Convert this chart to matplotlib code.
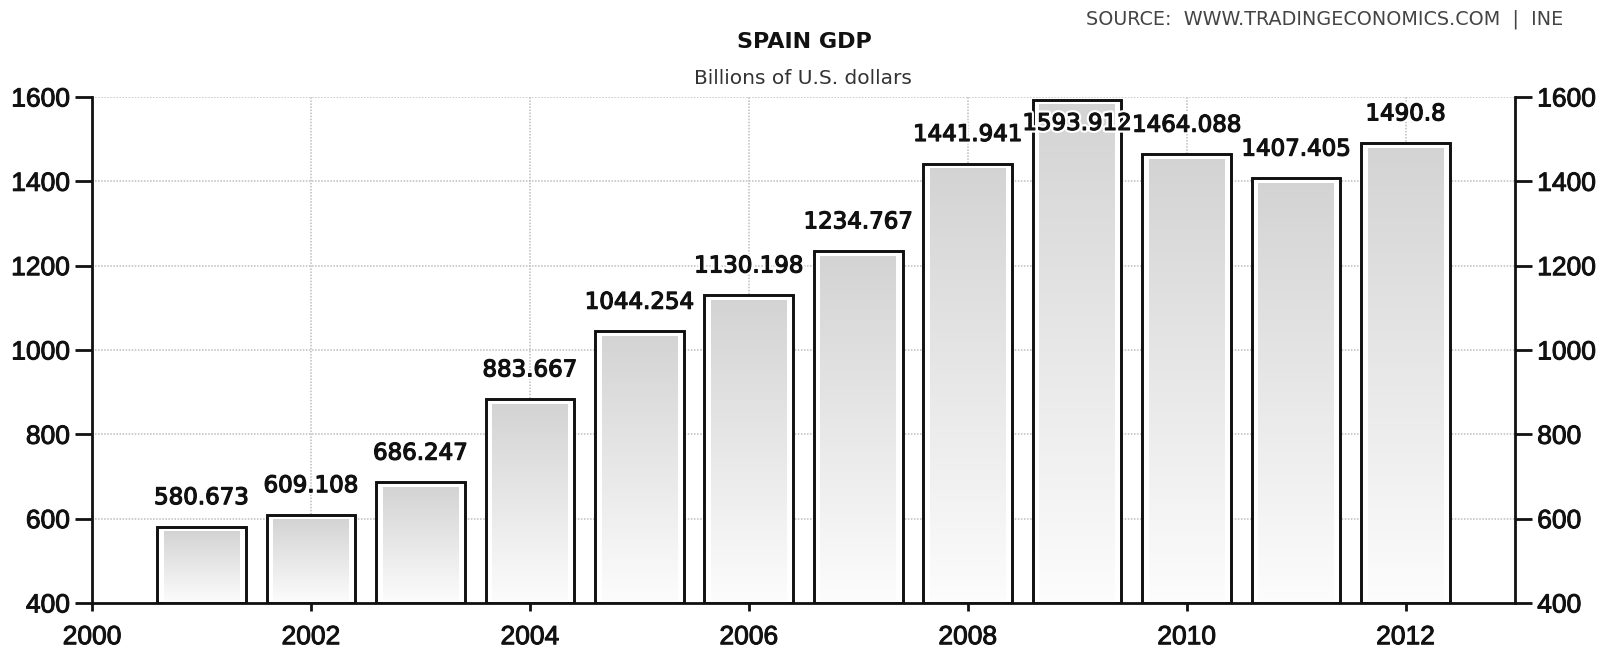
import numpy as np
import matplotlib
matplotlib.use("Agg")
import matplotlib.pyplot as plt
import matplotlib.patheffects as pe

# ---- data ----
years = [2001, 2002, 2003, 2004, 2005, 2006, 2007, 2008, 2009, 2010, 2011, 2012]
gdp = [580.673, 609.108, 686.247, 883.667, 1044.254, 1130.198, 1234.767,
       1441.941, 1593.912, 1464.088, 1407.405, 1490.8]
value_labels = ["580.673", "609.108", "686.247", "883.667", "1044.254", "1130.198",
                "1234.767", "1441.941", "1593.912", "1464.088", "1407.405", "1490.8"]
x_ticks = [2000, 2002, 2004, 2006, 2008, 2010, 2012]
y_ticks = [400, 600, 800, 1000, 1200, 1400, 1600]
title = "SPAIN GDP"
subtitle = "Billions of U.S. dollars"
source = "SOURCE:  WWW.TRADINGECONOMICS.COM  |  INE"

# ---- style ----
W, H, DPI = 1598, 652, 100
XMIN, XMAX = 2000, 2013
YMIN, YMAX = 400, 1600
BAR_W = 0.81
TICK_FONT = ["Liberation Sans Narrow", "Liberation Sans", "DejaVu Sans"]
DARK = "#111111"
heavy = [pe.withStroke(linewidth=0.7, foreground=DARK)]

fig = plt.figure(figsize=(W / DPI, H / DPI), dpi=DPI)
fig.patch.set_facecolor("white")
ax = fig.add_axes([92 / W, 1 - 603 / H, (1515 - 92) / W, (603 - 97) / H])
ax.set_xlim(XMIN, XMAX)
ax.set_ylim(YMIN, YMAX)
ax.set_facecolor("white")

# grid
for y in y_ticks[1:]:
    ax.axhline(y, color="#bdbdbd", lw=1.1, ls=(0, (1, 1)), zorder=0)
for x in x_ticks[1:]:
    ax.axvline(x, color="#bdbdbd", lw=1.1, ls=(0, (1, 1)), zorder=0)

# gradient image (top gray -> bottom white)
grad = np.linspace(0.99, 0.83, 256).reshape(-1, 1)
grad_rgb = np.dstack([grad, grad, grad])

inset_x = 0.06    # years
inset_top = 12    # data units

ax.bar(years, [v - YMIN for v in gdp], bottom=YMIN, width=BAR_W,
       facecolor="white", edgecolor=DARK, linewidth=1.9, zorder=2)
for xc, v in zip(years, gdp):
    ax.imshow(grad_rgb, extent=[xc - BAR_W / 2 + inset_x, xc + BAR_W / 2 - inset_x,
                                YMIN, v - inset_top],
              origin="lower", aspect="auto", zorder=3, interpolation="bicubic")
ax.set_xlim(XMIN, XMAX)
ax.set_ylim(YMIN, YMAX)
ax.bar(years, [v - YMIN for v in gdp], bottom=YMIN, width=BAR_W,
       facecolor="none", edgecolor=DARK, linewidth=1.9, zorder=4)

# value labels
fig.canvas.draw()
px_per_unit = (ax.transData.transform((0, YMAX))[1] - ax.transData.transform((0, YMIN))[1]) / (YMAX - YMIN)
off_pt = 21
off_units = off_pt * DPI / 72 / px_per_unit
for xc, v, lab in zip(years, gdp, value_labels):
    if v + off_units + 12 / px_per_unit > YMAX:
        xy, dy = (xc, YMAX), -19
    else:
        xy, dy = (xc, v), off_pt
    ax.annotate(lab, xy=xy, xytext=(0, dy), textcoords="offset points",
                ha="center", va="center", fontsize=16.5, color=DARK,
                family="DejaVu Sans", zorder=6, annotation_clip=False,
                path_effects=[pe.withStroke(linewidth=4, foreground="white"),
                              pe.withStroke(linewidth=0.9, foreground=DARK)])

# spines
ax.spines["top"].set_visible(False)
for s in ["left", "right", "bottom"]:
    ax.spines[s].set_linewidth(2)
    ax.spines[s].set_color(DARK)
    ax.spines[s].set_zorder(5)

ax.set_xticks(x_ticks)
ax.set_xticklabels([str(t) for t in x_ticks])
ax.set_yticks(y_ticks)
ax.set_yticklabels([str(t) for t in y_ticks])
ax.tick_params(axis="y", which="both", left=True, right=True, labelleft=True,
               labelright=True, direction="out", length=12, width=2,
               color=DARK, pad=4)
ax.tick_params(axis="x", direction="out", length=6, width=2, color=DARK, pad=10)
for lab in ax.get_xticklabels():
    lab.set_fontfamily(TICK_FONT)
    lab.set_fontsize(19)
    lab.set_color(DARK)
    lab.set_path_effects(heavy)
for t in ax.yaxis.get_major_ticks():
    for lab in (t.label1, t.label2):
        lab.set_fontfamily(TICK_FONT)
        lab.set_fontsize(19)
        lab.set_color(DARK)
        lab.set_path_effects(heavy)

# titles
fig.text(804 / W, 1 - 42 / H, title, ha="center", va="center", fontsize=16,
         fontweight="bold", color=DARK, family="DejaVu Sans")
fig.text(803 / W, 1 - 78 / H, subtitle, ha="center", va="center", fontsize=14.5,
         color="#333333", family="DejaVu Sans")
fig.text(1563 / W, 1 - 19 / H, source, ha="right", va="center", fontsize=13.8,
         color="#444444", family="DejaVu Sans")

fig.savefig("out.png", dpi=DPI, facecolor="white")
